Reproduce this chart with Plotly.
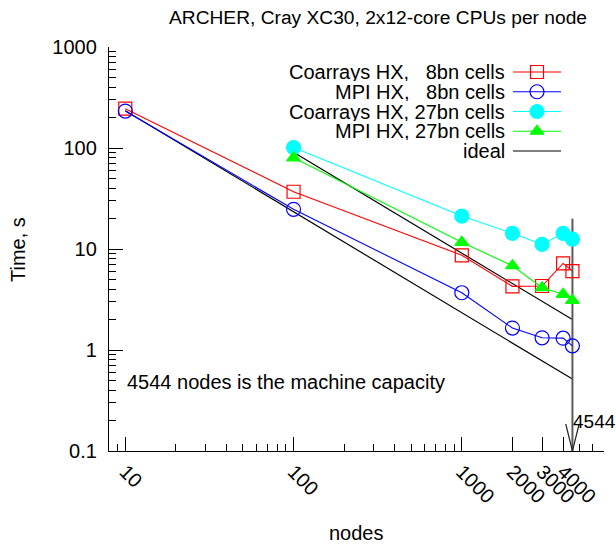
import math
import plotly.graph_objects as go

# ---------------- data ----------------
nodes_8bn = [10, 100, 1000, 2000, 3000, 4000, 4544]
coarrays_8bn = [245, 36.9, 8.66, 4.27, 4.3, 7.2, 6.05]
mpi_8bn = [232, 24.7, 3.69, 1.65, 1.32, 1.31, 1.10]

nodes_27bn = [100, 1000, 2000, 3000, 4000, 4544]
coarrays_27bn = [101, 21.2, 14.3, 11.1, 14.3, 12.5]
mpi_27bn = [80, 11.65, 6.83, 4.14, 3.56, 3.1]

ideal_8bn_nodes = [10, 4544]
ideal_8bn = [234, 0.515]
ideal_27bn_nodes = [100, 4544]
ideal_27bn = [91, 2.0]

capacity_nodes = [4544, 4544]
capacity_time = [20, 0.1]

x_tickvals = [10, 100, 1000, 2000, 3000, 4000]
x_ticktext = ["10", "100", "1000", "2000", "3000", "4000"]
x_minor = [9, 20, 30, 40, 50, 60, 70, 80, 90, 200, 300, 400, 500, 600, 700, 800, 900,
           5000, 6000, 7000]
y_tickvals = [0.1, 1, 10, 100, 1000]
y_ticktext = ["0.1", "1", "10", "100", "1000"]
y_minor = [m * d for d in (0.1, 1, 10, 100) for m in range(2, 10)]

series_names = ["Coarrays HX,\u00a0\u00a0\u00a08bn cells", "MPI HX,\u00a0\u00a0\u00a08bn cells",
                "Coarrays HX, 27bn cells", "MPI HX, 27bn cells", "ideal"]

FONT = "Liberation Sans, Arial, Helvetica, sans-serif"
FS = 20

W, H = 616, 548
L, R, T, B = 109, 604, 47, 451   # plot area in pixels


def px(x):
    return (x - L) / (R - L)


def py(y):
    return (B - y) / (B - T)


fig = go.Figure()

RED, BLUE, CYAN, GREEN = "#ff0000", "#0000ff", "#00ffff", "#00ff00"

styles = [
    dict(color=RED, symbol="square-open", size=13),
    dict(color=BLUE, symbol="circle-open", size=14),
    dict(color=CYAN, symbol="circle", size=14),
    dict(color=GREEN, symbol="triangle-up", size=12),
]

data_sets = [
    (nodes_8bn, coarrays_8bn),
    (nodes_8bn, mpi_8bn),
    (nodes_27bn, coarrays_27bn),
    (nodes_27bn, mpi_27bn),
]

# ideal lines
fig.add_trace(go.Scatter(x=ideal_8bn_nodes, y=ideal_8bn, mode="lines",
                         line=dict(color="black", width=1.2), showlegend=False))
fig.add_trace(go.Scatter(x=ideal_27bn_nodes, y=ideal_27bn, mode="lines",
                         line=dict(color="black", width=1.2), showlegend=False))

# machine capacity line
fig.add_trace(go.Scatter(x=capacity_nodes, y=capacity_time, mode="lines",
                         line=dict(color="#5a5a5a", width=2), showlegend=False,
                         cliponaxis=False))

for (xs, ys), st in zip(data_sets, styles):
    fig.add_trace(go.Scatter(
        x=xs, y=ys, mode="lines+markers",
        line=dict(color=st["color"], width=1.1),
        marker=dict(symbol=st["symbol"], size=st["size"], color=st["color"],
                    line=dict(width=1.2, color=st["color"])),
        showlegend=False, cliponaxis=False))

# ---------------- custom gnuplot-style legend (pixel overlay axes) ----------------
leg_rows = [72, 91.75, 111.5, 131.25, 151]
line_x0, line_x1, mark_x, text_x = 513, 561, 537, 507
leg_styles = styles + [dict(color="black", symbol=None, size=0)]
for name, st, yy in zip(series_names, leg_styles, leg_rows):
    fig.add_trace(go.Scatter(x=[line_x0, line_x1], y=[yy, yy], mode="lines",
                             line=dict(color=st["color"], width=1.1),
                             xaxis="x2", yaxis="y2", showlegend=False))
    if st["symbol"]:
        fig.add_trace(go.Scatter(x=[mark_x], y=[yy], mode="markers",
                                 marker=dict(symbol=st["symbol"], size=st["size"],
                                             color=st["color"],
                                             line=dict(width=1.2, color=st["color"])),
                                 xaxis="x2", yaxis="y2", showlegend=False))
    fig.add_annotation(x=px(text_x), y=py(yy), xref="paper", yref="paper", text=name,
                       showarrow=False, xanchor="right", yanchor="middle", height=18,
                       font=dict(family=FONT, size=FS, color="black"))

# arrowhead at capacity (open V)
fig.add_shape(type="path", xref="x", yref="y", xsizemode="pixel", ysizemode="pixel",
              xanchor=capacity_nodes[1], yanchor=capacity_time[1],
              path="M-6.7,27 L0,0 L6.7,27",
              line=dict(color="#222222", width=1.2))

texts = [
    dict(x=378, y=18, text="ARCHER, Cray XC30, 2x12-core CPUs per node", xanchor="center", fs=19.2),
    dict(x=125, y=382, text="4544 nodes is the machine capacity", xanchor="left", fs=FS),
    dict(x=571, y=421, text="4544", xanchor="left", fs=19),
    dict(x=356, y=533, text="nodes", xanchor="center", fs=FS),
]
for t in texts:
    fig.add_annotation(x=px(t["x"]), y=py(t["y"]), xref="paper", yref="paper", text=t["text"],
                       showarrow=False, xanchor=t["xanchor"], yanchor="middle",
                       font=dict(family=FONT, size=t["fs"], color="black"))
fig.add_annotation(x=px(18), y=py(250), xref="paper", yref="paper", text="Time, s",
                   textangle=-90, showarrow=False, xanchor="center", yanchor="middle",
                   font=dict(family=FONT, size=FS, color="black"))

fig.update_layout(
    width=W, height=H,
    margin=dict(l=L, r=W - R, t=T, b=H - B, pad=0),
    paper_bgcolor="white", plot_bgcolor="white",
    showlegend=False,
    font=dict(family=FONT, size=FS, color="black"),
    xaxis=dict(type="log", range=[math.log10(8), math.log10(7000)],
               tickmode="array", tickvals=x_tickvals, ticktext=x_ticktext,
               tickangle=45, ticks="inside", ticklen=14, tickwidth=1, tickcolor="black",
               showline=True, linecolor="black", linewidth=1.3, mirror=False,
               showgrid=False, zeroline=False,
               minor=dict(tickmode="array", tickvals=x_minor, ticks="inside",
                          ticklen=7, tickwidth=1, tickcolor="black", showgrid=False),
               tickfont=dict(family=FONT, size=FS)),
    yaxis=dict(type="log", range=[-1, 3],
               tickmode="array", tickvals=y_tickvals, ticktext=y_ticktext,
               ticks="inside", ticklen=14, tickwidth=1, tickcolor="black",
               showline=True, linecolor="black", linewidth=1.3, mirror=False,
               showgrid=False, zeroline=False, ticklabelstandoff=7,
               minor=dict(tickmode="array", tickvals=y_minor, ticks="inside",
                          ticklen=7, tickwidth=1, tickcolor="black", showgrid=False),
               tickfont=dict(family=FONT, size=FS)),
    xaxis2=dict(overlaying="x", range=[L, R], visible=False, fixedrange=True),
    yaxis2=dict(overlaying="y", range=[B, T], visible=False, fixedrange=True),
)

fig.write_html("out.html", config={"displayModeBar": False},
               post_script="document.body.style.margin='0px';")
